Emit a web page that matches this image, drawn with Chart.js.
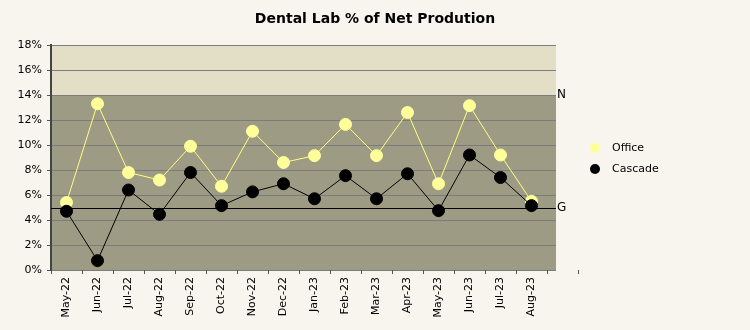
<!DOCTYPE html>
<html lang="en">
<head>
    <meta charset="UTF-8">
    <title>Dental Lab % of Net Prodution</title>
    <script src="https://cdn.jsdelivr.net/npm/chart.js"></script>
    <style>
        body { margin: 0; background: #f8f5ef; }
        #wrap { width: 750px; height: 330px; }
    </style>
</head>
<body>
    <div id="wrap">
        <canvas id="labChart" width="750" height="330"></canvas>
    </div>
    <script>
        // months (last slot is an empty one, like the original)
        const months = ['May-22', 'Jun-22', 'Jul-22', 'Aug-22', 'Sep-22', 'Oct-22', 'Nov-22', 'Dec-22',
                        'Jan-23', 'Feb-23', 'Mar-23', 'Apr-23', 'May-23', 'Jun-23', 'Jul-23', 'Aug-23', ''];
        const office = [5.4, 13.3, 7.8, 7.2, 9.9, 6.7, 11.1, 8.6, 9.15, 11.65, 9.15, 12.6, 6.9, 13.15, 9.2, 5.5];
        const cascade = [4.7, 0.75, 6.4, 4.45, 7.8, 5.15, 6.25, 6.9, 5.7, 7.55, 5.7, 7.7, 4.75, 9.2, 7.4, 5.15];
        const yTicks = [0, 2, 4, 6, 8, 10, 12, 14, 16, 18];
        const goal = 5;   // "G" line
        const norm = 14;  // "N" band edge

        const plotRight = 556; // shaded area stops here

        const bandPlugin = {
            id: 'bands',
            beforeDraw(chart) {
                const ctx = chart.ctx;
                const area = chart.chartArea;
                const y = chart.scales.y;
                const yTop = y.getPixelForValue(18);
                const yN = y.getPixelForValue(norm);
                const yBot = y.getPixelForValue(0);
                ctx.save();
                ctx.fillStyle = '#e3dfc7';
                ctx.fillRect(area.left, yTop, plotRight - area.left, yN - yTop);
                ctx.fillStyle = '#9e9b85';
                ctx.fillRect(area.left, yN, plotRight - area.left, yBot - yN);
                ctx.strokeStyle = '#7c7c7c';
                ctx.lineWidth = 1;
                yTicks.forEach(v => {
                    const py = Math.round(y.getPixelForValue(v)) + 0.5;
                    ctx.beginPath();
                    ctx.moveTo(area.left, py);
                    ctx.lineTo(plotRight, py);
                    ctx.stroke();
                });
                ctx.restore();
            },
            beforeDatasetsDraw(chart) {
                const ctx = chart.ctx;
                const area = chart.chartArea;
                const y = chart.scales.y;
                const gy = Math.round(y.getPixelForValue(goal)) + 0.5;
                ctx.save();
                ctx.strokeStyle = '#000';
                ctx.lineWidth = 1;
                ctx.beginPath();
                ctx.moveTo(area.left, gy);
                ctx.lineTo(plotRight, gy);
                ctx.stroke();
                ctx.restore();
            },
            afterDraw(chart) {
                const ctx = chart.ctx;
                const y = chart.scales.y;
                ctx.save();
                // title, centred on the whole picture
                ctx.fillStyle = '#000';
                ctx.font = 'bold 14px "DejaVu Sans"';
                ctx.textAlign = 'center';
                ctx.textBaseline = 'middle';
                ctx.fillText('Dental Lab % of Net Prodution', 375, 19);

                ctx.font = '12px "DejaVu Sans"';
                ctx.textAlign = 'left';
                ctx.fillText('N', plotRight + 1, y.getPixelForValue(norm));
                ctx.fillText('G', plotRight + 1, y.getPixelForValue(goal));

                // legend
                ctx.font = '11px "DejaVu Sans"';
                const items = [['Office', '#ffff99'], ['Cascade', '#000000']];
                items.forEach((it, i) => {
                    const ly = 148 + i * 21;
                    ctx.fillStyle = it[1];
                    ctx.beginPath();
                    ctx.arc(595, ly, 5, 0, Math.PI * 2);
                    ctx.fill();
                    ctx.fillStyle = '#000';
                    ctx.fillText(it[0], 612, ly);
                });
                ctx.restore();
            }
        };

        const labData = {
            labels: months,
            datasets: [{
                label: 'Office',
                data: office,
                borderColor: '#ffff80',
                backgroundColor: '#ffff99',
                pointBackgroundColor: '#ffff99',
                pointBorderColor: '#ffff99',
                borderWidth: 1,
                pointRadius: 6,
                order: 1
            }, {
                label: 'Cascade',
                data: cascade,
                borderColor: '#000',
                backgroundColor: '#000',
                pointBackgroundColor: '#000',
                pointBorderColor: '#000',
                borderWidth: 1,
                pointRadius: 6,
                order: 0
            }]
        };

        Chart.defaults.font.family = '"DejaVu Sans", Verdana, sans-serif';
        Chart.defaults.font.size = 11;
        Chart.defaults.color = '#000';

        const labChart = new Chart(document.getElementById('labChart'), {
            type: 'line',
            data: labData,
            plugins: [bandPlugin],
            options: {
                responsive: false,
                animation: false,
                layout: { padding: { left: 0, right: 172, top: 45, bottom: 0 } },
                plugins: {
                    legend: { display: false },
                    tooltip: { enabled: false },
                    title: { display: false }
                },
                scales: {
                    x: {
                        offset: true,
                        grid: { offset: true, drawOnChartArea: false, tickLength: 4, color: '#555' },
                        border: { display: false },
                        ticks: { autoSkip: false, minRotation: 90, maxRotation: 90, padding: 3 },
                        afterFit(scale) { scale.height = 60; }
                    },
                    y: {
                        min: 0,
                        max: 18,
                        grid: { drawOnChartArea: false, tickLength: 4, color: '#555' },
                        border: { display: true, color: '#444', width: 2 },
                        ticks: { stepSize: 2, padding: 5, callback: v => v + '%' },
                        afterFit(scale) { scale.width = 51; }
                    }
                }
            }
        });
    </script>
</body>
</html>
